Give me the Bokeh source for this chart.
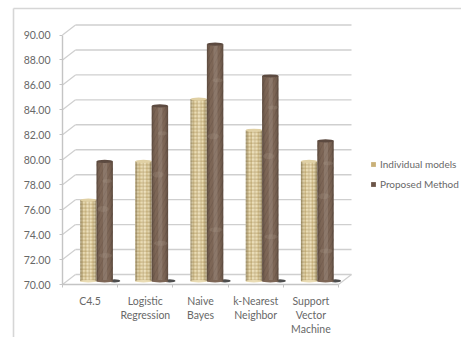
from bokeh.plotting import figure
from bokeh.embed import file_html
from bokeh.resources import INLINE
from bokeh.models import LinearAxis, FixedTicker, Range1d, Legend, LegendItem, NumeralTickFormatter

categories = ["C4.5", "Logistic\nRegression", "Naive\nBayes", "k-Nearest\nNeighbor", "Support\nVector\nMachine"]
individual = [76.5, 79.6, 84.6, 82.1, 79.6]
proposed = [79.6, 84.05, 89.0, 86.45, 81.25]
y_ticks = [70, 72, 74, 76, 78, 80, 82, 84, 86, 88, 90]

W, H = 461, 337
PX_X = 55.2     # pixels per category slot
PX_Y = 12.475   # pixels per value unit
X0, Y0 = 62, 284
DX, DY = 13 / PX_X, 10 / PX_Y          # depth of the 3-D box, in data units
BAR_W = 16.4 / PX_X
FONT = "Lato"
TXT = "#686868"
GRID = "#cfcfcf"


def inv_x(px):
    return (px - X0) / PX_X


def inv_y(py):
    return 70 + (Y0 - py) / PX_Y


p = figure(width=W, height=H, output_backend="svg", toolbar_location=None,
           x_range=Range1d(inv_x(0), inv_x(W)), y_range=Range1d(inv_y(H), inv_y(0)),
           x_axis_type=None, y_axis_type=None, min_border=0,
           background_fill_color="white", border_fill_color="white", outline_line_color=None)
p.grid.visible = False

# outer chart frame, top and left edges only
p.line([inv_x(13), inv_x(13)], [inv_y(H), inv_y(8)], line_color="#d6d6d6", line_width=1.6)
p.line([inv_x(13), inv_x(W)], [inv_y(8), inv_y(8)], line_color="#d6d6d6", line_width=1.6)

# back wall gridlines and their returns along the left wall
n = len(categories)
right = n + DX
for t in y_ticks:
    p.line([DX, right], [t + DY, t + DY], line_color=GRID, line_width=1.4)
    p.line([0, DX], [t, t + DY], line_color=GRID, line_width=1.2)
# floor outline
p.line([n, right], [70, 70 + DY], line_color=GRID, line_width=1.2)

y_axis = LinearAxis(ticker=FixedTicker(ticks=y_ticks), fixed_location=0, bounds=(70, 90),
                    axis_line_color="#c4c4c4", axis_line_width=1.4,
                    major_tick_line_color="#c4c4c4", major_tick_out=3, major_tick_in=0,
                    minor_tick_line_color=None,
                    major_label_text_font=FONT, major_label_text_font_size="10.5px",
                    major_label_text_color=TXT, major_label_standoff=9,
                    formatter=NumeralTickFormatter(format="0.00"))
p.add_layout(y_axis, "left")

centers = [i + 0.5 for i in range(n)]
x_axis = LinearAxis(ticker=FixedTicker(ticks=centers, minor_ticks=list(range(n + 1))),
                    fixed_location=70, bounds=(0, n),
                    axis_line_color="#c4c4c4", axis_line_width=1.4,
                    major_tick_line_color=None, major_tick_out=0, major_tick_in=0,
                    minor_tick_line_color="#c4c4c4", minor_tick_out=3, minor_tick_in=0,
                    major_label_text_font=FONT, major_label_text_font_size="10.5px",
                    major_label_text_color=TXT, major_label_standoff=7,
                    major_label_overrides={c: l for c, l in zip(centers, categories)})
p.add_layout(x_axis, "below")

# cylinders stand at mid depth on the floor
BASE = 70 + 0.33 * DY
SHIFT = 0.116


def cylinders(xs, values, fill, hatch, hatch_color, hatch_scale, hatch_alpha, cap):
    tops = [v + 0.33 * DY for v in values]
    p.vbar(x=xs, top=tops, bottom=BASE, width=BAR_W, fill_color=fill, line_color=None,
           hatch_pattern=hatch, hatch_color=hatch_color, hatch_scale=hatch_scale,
           hatch_weight=0.8, hatch_alpha=hatch_alpha)
    # rounded shading across the width of each cylinder
    strips = [(-0.5, 0.09, "black", 0.20), (-0.41, 0.10, "black", 0.07),
              (-0.1, 0.25, "white", 0.12), (0.30, 0.10, "black", 0.07), (0.40, 0.10, "black", 0.20)]
    for off, w, col, a in strips:
        sx = [x + (off + w / 2) * BAR_W for x in xs]
        p.vbar(x=sx, top=tops, bottom=BASE, width=w * BAR_W, fill_color=col, fill_alpha=a, line_color=None)
    p.ellipse(x=xs, y=tops, width=BAR_W, height=3.2 / PX_Y, fill_color=cap, line_color=None)
    p.ellipse(x=xs, y=BASE, width=BAR_W, height=2.4 / PX_Y, fill_color=fill, line_color=None)


x_ind = [c + SHIFT - BAR_W / 2 for c in centers]
x_pro = [c + SHIFT + BAR_W / 2 for c in centers]

# contact shadow to the right of each pair
p.ellipse(x=[x + BAR_W * 0.6 for x in x_pro], y=BASE + 0.02, width=BAR_W * 0.7, height=3.2 / PX_Y,
          fill_color="#2f2f2f", fill_alpha=0.85, line_color=None)

cylinders(x_ind, individual, "#eadcb4", "cross", "#ac9058", 3.6, 0.8, "#e0d0a4")
cylinders(x_pro, proposed, "#7d6656", "right_diagonal_line", "#5f4c40", 9, 0.45, "#5c4a40")

# pale veins in the marble finish of the taller cylinders
for frac, off, w, h in [(0.22, 0.05, 0.8, 5), (0.62, -0.1, 0.7, 6), (0.86, 0.15, 0.6, 4)]:
    vx = [x + off * BAR_W for x in x_pro]
    vy = [BASE + frac * (v - BASE) for v in proposed]
    p.ellipse(x=vx, y=vy, width=w * BAR_W, height=h / PX_Y, fill_color="#b5a494", fill_alpha=0.2, line_color=None)

# zero-height bars only supply the legend swatches
swatch_ind = p.vbar(x=x_ind[:1], top=BASE, bottom=BASE, width=0, fill_color="#c9b078", line_color=None)
swatch_pro = p.vbar(x=x_pro[:1], top=BASE, bottom=BASE, width=0, fill_color="#6b5548", line_color=None)
legend = Legend(items=[LegendItem(label="Individual models", renderers=[swatch_ind]),
                       LegendItem(label="Proposed Method", renderers=[swatch_pro])],
                location=(370, H - 191), orientation="vertical",
                background_fill_alpha=0, border_line_color=None,
                glyph_width=6, glyph_height=6, label_standoff=4, spacing=6,
                padding=2, margin=0, label_height=14,
                label_text_font=FONT, label_text_font_size="10px", label_text_color=TXT)
p.add_layout(legend, "center")

open("out.html", "w").write(file_html(p, INLINE))
